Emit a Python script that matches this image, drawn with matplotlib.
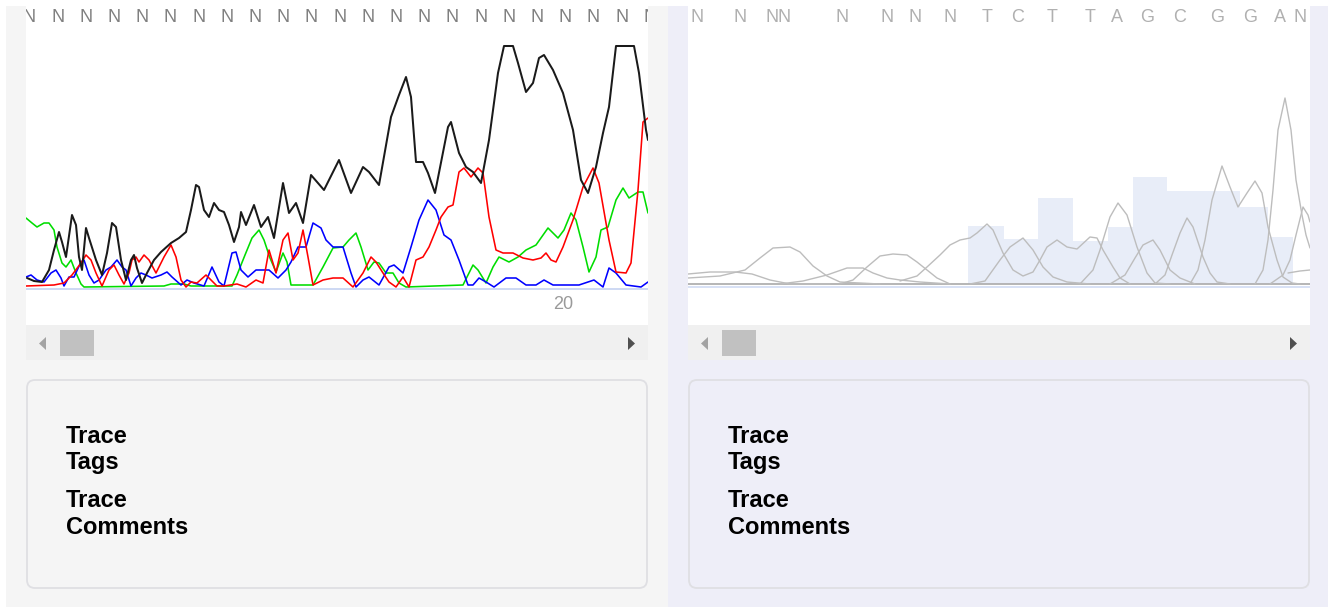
import matplotlib
matplotlib.use("Agg")
import matplotlib.pyplot as plt
from matplotlib.patches import Rectangle, FancyBboxPatch, Polygon

# ---------------- data (scan position, signal) ----------------
left_calls = ["N"] * 23
left_call_pos = [3.5 + 28.2 * k for k in range(23)]   # read positions of the base calls
left_tick_label = "20"
left_tick_pos = 537

black_x = [1, 8, 16, 23, 28, 33, 36, 40, 46, 50, 53, 56, 60, 63, 70, 76, 81, 86, 90, 95, 100, 105, 108, 111,
           116, 121, 128, 135, 145, 153, 160, 165, 170, 173, 178, 183, 188, 193, 198, 203, 208, 213, 215,
           220, 228, 235, 242, 248, 257, 263, 270, 277, 285, 298, 313, 325, 337, 343, 353, 365, 373, 380,
           385, 390, 397, 402, 409, 422, 425, 433, 440, 447, 455, 463, 472, 478, 487, 492, 500, 507, 513,
           518, 527, 537, 547, 555, 562, 570, 577, 583, 590, 608, 613, 620, 622]
black_y = [9, 6, 5, 17, 37, 55, 45, 30, 72, 62, 30, 17, 59, 49, 27, 12, 34, 64, 60, 27, 7, 27, 32, 19,
           4, 14, 27, 35, 44, 49, 55, 77, 102, 100, 77, 70, 84, 77, 75, 62, 45, 60, 75,
           62, 82, 60, 70, 49, 104, 74, 84, 64, 112, 97, 127, 94, 120, 115, 102, 170, 192, 210,
           190, 125, 125, 114, 94, 160, 165, 134, 120, 115, 104, 147, 214, 241, 241, 224, 195, 204, 229,
           232, 217, 194, 157, 107, 94, 120, 154, 180, 241, 241, 214, 157, 147]

red_x = [0, 28, 38, 46, 55, 60, 65, 70, 76, 83, 88, 93, 98, 103, 106, 110, 113, 118, 123, 130, 138, 145,
         150, 155, 160, 165, 171, 180, 185, 191, 198, 211, 220, 230, 237, 243, 250, 257, 262, 267, 272,
         277, 282, 287, 297, 307, 317, 327, 337, 345, 350, 357, 363, 370, 377, 383, 390, 397, 403, 410,
         415, 422, 427, 433, 438, 445, 452, 457, 463, 470, 477, 487, 497, 507, 515, 520, 525, 530, 537,
         547, 557, 567, 573, 583, 590, 600, 605, 612, 617, 622]
red_y = [1, 2, 4, 12, 24, 32, 27, 14, 1, 17, 22, 12, 3, 14, 27, 30, 25, 32, 27, 14, 30, 42,
         30, 7, 0, 5, 4, 12, 7, 1, 1, 3, 0, 7, 4, 37, 14, 47, 54, 27, 34,
         57, 30, 2, 7, 9, 9, 0, 14, 30, 25, 14, 5, 0, 10, 0, 27, 30, 40, 57,
         70, 80, 82, 115, 119, 110, 119, 114, 70, 37, 34, 34, 29, 27, 29, 34, 27, 25, 40,
         67, 100, 119, 104, 47, 15, 14, 24, 97, 165, 169]

green_x = [0, 6, 11, 18, 23, 28, 31, 36, 40, 45, 50, 55, 58, 138, 145, 158, 165, 206, 211, 219, 226, 233,
           238, 244, 250, 257, 261, 265, 287, 297, 307, 317, 323, 330, 335, 342, 348, 353, 360, 367, 373,
           380, 437, 447, 452, 460, 467, 473, 483, 492, 500, 510, 522, 532, 538, 545, 550, 557, 563, 570,
           575, 582, 590, 597, 603, 612, 617, 622]
green_y = [69, 64, 60, 64, 64, 57, 40, 24, 20, 27, 14, 3, 0, 1, 3, 3, 1, 1, 12, 32, 49, 57,
           47, 29, 15, 34, 25, 2, 2, 20, 39, 40, 47, 54, 40, 17, 25, 24, 14, 14, 4,
           0, 2, 22, 17, 4, 20, 30, 25, 30, 37, 42, 59, 49, 57, 74, 67, 40, 15, 30,
           57, 60, 87, 99, 89, 95, 95, 74]

blue_x = [0, 5, 11, 18, 25, 30, 35, 38, 43, 48, 55, 58, 63, 68, 73, 80, 85, 91, 96, 100, 105, 110, 115,
          120, 126, 135, 141, 146, 155, 161, 168, 178, 186, 193, 198, 206, 210, 215, 222, 230, 237, 243,
          252, 260, 265, 272, 280, 287, 295, 300, 307, 317, 325, 330, 337, 343, 353, 363, 368, 377, 385,
          393, 402, 410, 418, 425, 433, 442, 447, 453, 460, 468, 480, 490, 500, 510, 518, 527, 553, 568,
          577, 583, 590, 600, 615, 622]
blue_y = [10, 12, 7, 5, 14, 17, 9, 1, 10, 10, 25, 27, 12, 4, 7, 17, 20, 27, 20, 17, 1, 9, 14,
          12, 9, 12, 15, 10, 2, 7, 4, 1, 20, 5, 1, 34, 35, 17, 10, 17, 17, 17,
          9, 17, 25, 40, 40, 64, 59, 47, 40, 40, 14, 0, 7, 10, 2, 20, 22, 14, 40,
          67, 87, 77, 52, 47, 27, 2, 2, 9, 5, 0, 9, 9, 2, 2, 7, 2, 2, 7,
          0, 19, 14, 2, 0, 5]

right_calls = list("NNNNNNNNTCTTAGCGGAN")
right_call_pos = [9, 52, 84, 96, 154, 199, 227, 262, 299, 330, 364, 402, 429, 459, 492, 529, 562, 592, 612]

qual_left = [280, 316, 350, 385, 420, 445, 479, 552, 580]
qual_right = [316, 350, 385, 420, 445, 479, 552, 580, 605]
qual_height = [58, 45, 86, 43, 57, 107, 93, 77, 47]

right_traces_x = [
    [0, 32, 57, 72, 85, 102, 112, 125, 139, 152, 192],
    [0, 22, 47, 64, 82, 102, 142],
    [92, 115, 139, 159, 175, 185, 199, 212, 232, 262],
    [152, 165, 179, 192, 205, 219, 229, 239, 249, 262],
    [212, 229, 239, 252, 262, 272, 282, 289, 299, 305, 315, 325, 335, 345, 352, 359, 369, 379, 389,
     402, 409, 415, 425, 432, 442],
    [282, 297, 312, 322, 335, 345, 355, 365, 379, 402],
    [392, 405, 412, 422, 430, 439, 449, 459, 467, 482],
    [422, 437, 447, 455, 465, 472, 482, 492, 507],
    [467, 477, 484, 492, 499, 505, 515, 522, 529, 542],
    [502, 510, 517, 524, 534, 542, 550, 559, 567, 574, 580, 589, 595, 604, 612],
    [567, 575, 580, 585, 590, 597, 603, 608, 614, 618, 622],
    [582, 595, 602, 608, 615, 620, 622],
    [600, 612, 622],
]
right_traces_y = [
    [6, 8, 14, 26, 36, 37, 32, 18, 8, 2, 0],
    [10, 12, 12, 10, 4, 0, 0],
    [0, 3, 9, 16, 16, 11, 6, 4, 2, 0],
    [0, 4, 17, 28, 30, 29, 22, 14, 6, 0],
    [3, 8, 17, 29, 39, 44, 46, 51, 60, 54, 31, 14, 8, 12, 24, 37, 44, 37, 35,
     47, 46, 34, 17, 6, 0],
    [0, 3, 24, 37, 46, 34, 17, 7, 2, 0],
    [0, 14, 34, 67, 81, 69, 37, 11, 1, 0],
    [0, 9, 26, 39, 44, 34, 14, 6, 0],
    [0, 9, 29, 51, 66, 57, 27, 11, 2, 0],
    [0, 14, 44, 84, 118, 97, 77, 91, 103, 91, 57, 24, 7, 1, 0],
    [0, 14, 44, 94, 154, 186, 154, 104, 69, 49, 36],
    [0, 9, 24, 49, 77, 69, 62],
    [11, 13, 14],
]

# ---------------- figure ----------------
W, H = 1328, 607
fig = plt.figure(figsize=(W / 100, H / 100), dpi=100, facecolor="white")

ui = fig.add_axes([0, 0, 1, 1])
ui.set_xlim(0, W)
ui.set_ylim(H, 0)
ui.axis("off")
ui.set_zorder(0)

LEFT_BG = "#f5f5f5"
RIGHT_BG = "#eeeef8"

ui.add_patch(Rectangle((6, 6), 662, H - 6, color=LEFT_BG, lw=0))
ui.add_patch(Rectangle((668, 6), W - 668, H - 6, color=RIGHT_BG, lw=0))

for x0, bg in ((26, LEFT_BG), (688, RIGHT_BG)):
    ui.add_patch(Rectangle((x0, 0), 622, 325, color="white", lw=0))
    # scrollbar
    ui.add_patch(Rectangle((x0, 325), 622, 35, color="#f0f0f0", lw=0))
    ui.add_patch(Rectangle((x0 + 34, 330), 34, 26, color="#c1c1c1", lw=0))
    ui.add_patch(Polygon([(x0 + 20, 337), (x0 + 20, 350), (x0 + 13, 343.5)], closed=True,
                         color="#a3a3a3", lw=0))
    ui.add_patch(Polygon([(x0 + 602, 337), (x0 + 602, 350), (x0 + 609, 343.5)], closed=True,
                         color="#505050", lw=0))
    # info box
    ui.add_patch(FancyBboxPatch((x0 + 1, 380), 620, 208,
                                boxstyle="round,pad=0,rounding_size=8",
                                facecolor=bg, edgecolor="#dfdfe3", lw=1.3))
    tx = x0 + 40
    for label, yb in (("Trace", 443), ("Tags", 469), ("Trace", 507), ("Comments", 534)):
        ui.text(tx, yb, label, fontsize=17, fontweight="bold", color="black",
                family=["Liberation Sans", "DejaVu Sans"], va="baseline", ha="left")

LETTER_FONT = ["Liberation Sans Narrow", "Liberation Sans", "DejaVu Sans"]


def chart_axes(x0, baseline_py):
    ax = fig.add_axes([x0 / W, (H - 325) / H, 622 / W, 319 / H])
    ax.set_zorder(1)
    ax.set_facecolor("white")
    ax.set_xlim(0, 622)
    ax.set_ylim(baseline_py - 325, baseline_py - 6)
    for s in ax.spines.values():
        s.set_visible(False)
    ax.set_xticks([])
    ax.set_yticks([])
    return ax


# ---- left chart ----
axL = chart_axes(26, 287)
axL.axhline(-1.5, color="#c9d6f2", lw=1.3, zorder=1)
kw = dict(solid_joinstyle="round", solid_capstyle="round")
axL.plot(green_x, green_y, color="#00dd00", lw=1.15, zorder=2, **kw)
axL.plot(blue_x, blue_y, color="#0000ff", lw=1.15, zorder=3, **kw)
axL.plot(red_x, red_y, color="#ff0000", lw=1.15, zorder=4, **kw)
axL.plot(black_x, black_y, color="#1a1a1a", lw=1.45, zorder=5, **kw)
trL = axL.get_xaxis_transform()
for c, p in zip(left_calls, left_call_pos):
    axL.text(p, 0.9655, c, transform=trL, ha="center", va="center", fontsize=13,
             color="#808080", family=LETTER_FONT, clip_on=True)
axL.text(left_tick_pos, 0.063, left_tick_label, transform=trL, ha="center", va="center",
         fontsize=13, color="#9a9a9a", family=["Liberation Sans", "DejaVu Sans"])

# ---- right chart ----
axR = chart_axes(688, 284)
axR.bar(qual_left, qual_height, width=[r - l for l, r in zip(qual_left, qual_right)],
        align="edge", color="#e8edf8", lw=0, zorder=1)
axR.axhline(-2.5, color="#d4def4", lw=1.3, zorder=1)
axR.axhline(0, color="#b0b0b0", lw=1.3, zorder=2)
for xs, ys in zip(right_traces_x, right_traces_y):
    axR.plot(xs, ys, color="#bdbdbd", lw=1.0, zorder=3, **kw)
trR = axR.get_xaxis_transform()
for c, p in zip(right_calls, right_call_pos):
    axR.text(p, 0.9655, c, transform=trR, ha="center", va="center", fontsize=13,
             color="#b0b0b0", family=LETTER_FONT, clip_on=True)

fig.savefig("out.png", dpi=100, facecolor="white")
